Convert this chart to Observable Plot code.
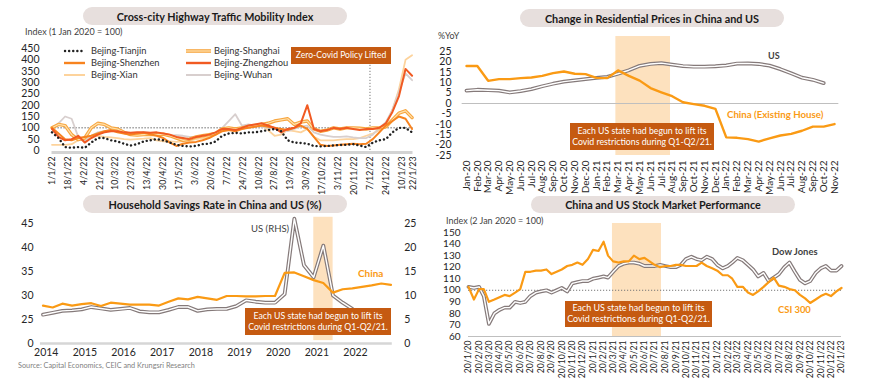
<!DOCTYPE html>
<html><head><meta charset="utf-8">
<script src="https://cdn.jsdelivr.net/npm/d3@7"></script>
<script src="https://cdn.jsdelivr.net/npm/@observablehq/plot@0.6"></script>
<style>
body{margin:0;background:#fff;font-family:Lato,"Open Sans",sans-serif;}
#root{position:relative;width:870px;height:389px;overflow:hidden;background:#fff}
.pill{position:absolute;background:#E7DFDD;border-radius:10px;font-weight:700;color:#1a1a1a;display:flex;align-items:center;justify-content:center;white-space:nowrap}
.box{position:absolute;background:#C55A11;color:#fff;display:flex;flex-direction:column;align-items:center;justify-content:center;white-space:nowrap;line-height:1.2}
.lbl{position:absolute;white-space:nowrap;line-height:1;transform:translateY(-50%)}
svg.chart{position:absolute}
</style></head>
<body><div id="root"></div>
<script>
// ---------------- DATA ----------------
// Panel 1: Cross-city highway traffic mobility index (weekly samples)
const trafficDates = ("2022-01-01 2022-01-08 2022-01-15 2022-01-22 2022-01-29 2022-02-05 2022-02-12 2022-02-19 2022-02-26 " +
 "2022-03-05 2022-03-12 2022-03-19 2022-03-26 2022-04-02 2022-04-09 2022-04-16 2022-04-23 2022-04-30 2022-05-07 2022-05-14 " +
 "2022-05-21 2022-05-28 2022-06-04 2022-06-11 2022-06-18 2022-06-25 2022-07-02 2022-07-09 2022-07-16 2022-07-23 2022-07-30 " +
 "2022-08-06 2022-08-13 2022-08-20 2022-08-27 2022-09-03 2022-09-10 2022-09-17 2022-09-24 2022-10-01 2022-10-08 2022-10-15 " +
 "2022-10-22 2022-10-29 2022-11-05 2022-11-12 2022-11-19 2022-11-26 2022-12-03 2022-12-10 2022-12-17 2022-12-24 2022-12-31 " +
 "2023-01-07 2023-01-14 2023-01-21").split(" ");
const trafficTianjin   = [80,55,15,12,15,12,35,55,55,45, 40,30,22,28,40,45,50,45,35,25, 20,18,20,28,30,40,65,75,78,75, 80,80,85,90,95,85,45,35,33,30, 20,18,20,22,24,25,28,22,15,35, 45,50,80,100,100,80];
const trafficShanghai  = [100,115,110,70,48,55,100,120,115,100, 95,80,70,68,70,72,70,72,65,55, 45,50,60,65,70,75,95,100,95,100, 105,110,115,120,130,135,140,115,125,130, 95,85,90,100,95,100,100,98,95,100, 100,105,135,165,175,145];
const trafficShenzhen  = [100,75,50,45,55,60,65,75,85,90, 80,75,70,75,78,72,65,55,35,20, 30,35,38,45,55,70,85,90,85,95, 100,105,110,105,100,95,90,100,110,95, 60,25,20,22,25,28,30,28,30,50, 80,110,130,150,140,95];
const trafficZhengzhou = [95,60,45,50,65,35,55,70,80,85, 85,80,78,80,80,78,80,75,70,60, 55,50,60,65,70,80,95,95,90,100, 110,115,120,110,100,80,95,100,120,200, 95,85,90,100,95,100,95,90,95,95, 100,120,170,240,360,330];
const trafficXian      = [25,25,25,28,45,55,60,65,60,58, 55,50,48,50,52,55,45,40,40,38, 40,42,50,55,60,70,85,90,95,100, 110,115,110,90,65,70,90,85,80,95, 60,45,45,45,48,50,50,55,65,75, 90,110,180,270,400,420];
const trafficWuhan     = [95,120,150,140,60,40,65,80,85,90, 85,80,78,75,80,78,75,70,65,68, 65,60,60,65,70,80,100,130,160,110, 115,110,105,100,95,90,85,95,105,110, 80,70,65,60,60,62,58,55,55,70, 100,125,180,260,340,310];
const trafficTickLabels = ["1/1/22","18/1/22","4/2/22","21/2/22","10/3/22","27/3/22","13/4/22","30/4/22","17/5/22","3/6/22","20/6/22","7/7/22","24/7/22","10/8/22","27/8/22","13/9/22","30/9/22","17/10/22","3/11/22","20/11/22","7/12/22","24/12/22","10/1/23","22/1/23"];
const trafficYTicks = [0,50,100,150,200,250,300,350,400,450];
const zeroCovidLifted = "7/12/22";

// Panel 2: change in residential prices (%YoY)
const resMonths = ["Jan-20","Feb-20","Mar-20","Apr-20","May-20","Jun-20","Jul-20","Aug-20","Sep-20","Oct-20","Nov-20","Dec-20",
 "Jan-21","Feb-21","Mar-21","Apr-21","May-21","Jun-21","Jul-21","Aug-21","Sep-21","Oct-21","Nov-21","Dec-21",
 "Jan-22","Feb-22","Mar-22","Apr-22","May-22","Jun-22","Jul-22","Aug-22","Sep-22","Oct-22","Nov-22"];
const resChina = [18,18,10.9,11.7,11.7,12.2,12.5,13.3,14.6,15.4,14.3,14.1, 12.3,12.2,15.9,13.3,11,7.4,5.4,3.5,0.6,-0.3,-1.1,-2.6, -16.3,-16.5,-17.1,-18.3,-16.8,-15.4,-14.6,-13.1,-11.1,-11.1,-9.9];
const resUS = [6.2,6.6,6.4,6.2,5.3,6.0,6.9,8.3,9.5,10.5,11.1,11.7, 12.3,12.8,14.3,16.0,18.1,19.0,19.4,18.7,18.0,17.7,17.7,17.9, 18.3,19.2,19.3,19.0,18.2,16.5,14.5,12.4,11.4,9.8];
const resYTicks = [25,20,15,10,5,0,-5,-10,-15,-20,-25];
const resBand = {start:13.8, end:18.85}; // month index span, Q1-Q2/21

// Panel 3: household savings rate (quarterly)
const savQuarters = ["2013Q4","2014Q1","2014Q2","2014Q3","2014Q4","2015Q1","2015Q2","2015Q3","2015Q4","2016Q1","2016Q2","2016Q3","2016Q4",
 "2017Q1","2017Q2","2017Q3","2017Q4","2018Q1","2018Q2","2018Q3","2018Q4","2019Q1","2019Q2","2019Q3","2019Q4",
 "2020Q1","2020Q2","2020Q3","2020Q4","2021Q1","2021Q2","2021Q3","2021Q4","2022Q1","2022Q2","2022Q3","2022Q4"];
const savChina = [27.9,27.5,28.3,27.9,28.2,28.4,27.8,28.5,28.3,28.1,28.1,28.1,27.9,28.7,29.4,29.2,29.7,29.4,29.1,29.9,29.9,29.8,29.8,29.9,29.9,34.7,34.8,34.0,33.2,32.6,30.6,31.3,31.5,31.8,32.1,32.5,32.2];
const savUS = [6.0,6.4,6.8,6.9,7.1,7.6,7.3,7.0,7.2,7.4,6.7,6.5,6.5,7.0,7.6,7.6,6.8,7.1,7.2,7.2,7.8,9.0,8.7,8.5,8.5,10.3,26.0,16.3,13.8,20.4,10.0,8.5,7.2,5.5,3.5,3.0];
const savYears = [2014,2015,2016,2017,2018,2019,2020,2021,2022];
const savRightTicks = [0,5,10,15,20,25];
const savLeftLabels = ["0","25","30","35","40","45"];
const savLeftOffset = 20; // left axis = right axis + 20
const savBand = {start:2020.92, end:2021.42};

// Panel 4: stock market performance
const stockDates = ("2020-01-20 2020-02-05 2020-02-20 2020-03-05 2020-03-20 2020-04-05 2020-04-20 2020-05-05 2020-05-20 2020-06-05 2020-06-20 2020-07-05 2020-07-20 2020-08-05 2020-08-20 2020-09-05 2020-09-20 2020-10-05 2020-10-20 2020-11-05 2020-11-20 2020-12-05 2020-12-20 " +
 "2021-01-05 2021-01-20 2021-02-05 2021-02-20 2021-03-05 2021-03-20 2021-04-05 2021-04-20 2021-05-05 2021-05-20 2021-06-05 2021-06-20 2021-07-05 2021-07-20 2021-08-05 2021-08-20 2021-09-05 2021-09-20 2021-10-05 2021-10-20 2021-11-05 2021-11-20 2021-12-05 2021-12-20 " +
 "2022-01-05 2022-01-20 2022-02-05 2022-02-20 2022-03-05 2022-03-20 2022-04-05 2022-04-20 2022-05-05 2022-05-20 2022-06-05 2022-06-20 2022-07-05 2022-07-20 2022-08-05 2022-08-20 2022-09-05 2022-09-20 2022-10-05 2022-10-20 2022-11-05 2022-11-20 2022-12-05 2022-12-20 " +
 "2023-01-05 2023-01-20").split(" ");
const stockCSI300 = [103,92,101,101,90,92,94,96,95,98, 101,116,116,117,117,118,114,116,118,121, 122,124,122,127,135,134,142,130,125,124, 125,125,130,127,128,125,122,120,121,121, 122,122,121,121,121,124,121,119,117,113, 113,110,103,103,98,96,99,103,107,111, 104,103,101,100,96,93,89,92,95,97, 95,99,102];
const stockDow = [103,102,103,95,71,80,83,85,85,90, 89,90,95,98,99,100,98,100,102,99, 106,107,108,108,110,111,112,111,116,121, 123,124,124,123,121,121,121,122,121,120, 120,122,127,129,127,126,129,127,122,119, 121,124,128,126,122,118,112,115,108,111, 114,120,124,116,109,106,108,115,119,121, 117,117,121];
const stockTickLabels = ["20/1/20","20/2/20","20/3/20","20/4/20","20/5/20","20/6/20","20/7/20","20/8/20","20/9/20","20/10/20","20/11/20","20/12/20",
 "20/1/21","20/2/21","20/3/21","20/4/21","20/5/21","20/6/21","20/7/21","20/8/21","20/9/21","20/10/21","20/11/21","20/12/21",
 "20/1/22","20/2/22","20/3/22","20/4/22","20/5/22","20/6/22","20/7/22","20/8/22","20/9/22","20/10/22","20/11/22","20/12/22","20/1/23"];
const stockYTicks = [60,70,80,90,100,110,120,130,140,150];
const stockBand = {start:"2021-03-18", end:"2021-08-09"};

// ---------------- HELPERS ----------------
const ORANGE = "#FA9A14", BAND = "#FDE1BE", GRAYLINE = "#857a7a", DARK = "#3f3f3f";
const root = document.getElementById("root");
const parseDMY = s => { const [d,m,y] = s.split("/").map(Number); return new Date(Date.UTC(2000+y, m-1, d)); };
const fmtDMY = d => `${d.getUTCDate()}/${d.getUTCMonth()+1}/${d.getUTCFullYear()%100}`;
const iso = s => new Date(s + "T00:00:00Z");
function fit(el, target, k=1){ el.style.fontSize="10px"; const w=el.getBoundingClientRect().width; el.style.fontSize=(10*k*target/w).toFixed(2)+"px"; }
function pill(text,x,y,w,h,tw){
  const d=document.createElement("div"); d.className="pill";
  Object.assign(d.style,{left:x+"px",top:y+"px",width:w+"px",height:h+"px"});
  const s=document.createElement("span"); s.textContent=text; d.appendChild(s); root.appendChild(d); fit(s,tw,1.03);
}
function noteBox(lines,x,y,w,h,tw){
  const d=document.createElement("div"); d.className="box";
  Object.assign(d.style,{left:x+"px",top:y+"px",width:w+"px",height:h+"px"});
  const spans=lines.map(t=>{const s=document.createElement("span"); s.textContent=t; d.appendChild(s); return s;});
  root.appendChild(d);
  const longest=spans.reduce((a,b)=>b.getBoundingClientRect().width>a.getBoundingClientRect().width?b:a);
  fit(longest,tw,1.02); const fs=longest.style.fontSize; spans.forEach(s=>s.style.fontSize=fs);
}
function label(text,x,yc,tw,opts={}){
  const d=document.createElement("div"); d.className="lbl"; d.textContent=text;
  Object.assign(d.style,{left:x+"px",top:yc+"px",color:opts.color||DARK,fontWeight:opts.weight||400});
  root.appendChild(d); fit(d,tw,1.06); return d;
}
function place(svg,x,y){ svg.classList.add("chart"); svg.style.left=x+"px"; svg.style.top=y+"px"; root.appendChild(svg); }
const dbl = (data,opts) => [Plot.line(data,{...opts,stroke:GRAYLINE,strokeWidth:3.8}), Plot.line(data,{...opts,stroke:"#fff",strokeWidth:1.4})];
const baseStyle = {fontFamily:"Lato, 'Open Sans', sans-serif", fontSize:"10px", color:"#262626", background:"transparent", overflow:"visible"};

// ---------------- PANEL 1 ----------------
const tD = trafficDates.map(iso);
const rows = arr => tD.map((d,i)=>({date:d, v:arr[i]}));
const p1 = Plot.plot({
  width:435, height:150, marginLeft:51.5, marginRight:22.5, marginTop:8, marginBottom:40, style:baseStyle,
  x:{type:"utc", domain:[tD[0], parseDMY("22/1/23")], label:null},
  y:{domain:[0,450], label:null},
  marks:[
    Plot.ruleY([0],{stroke:"#d3d3d3",strokeWidth:3,dy:2}),
    Plot.ruleY([100],{stroke:"#444",strokeWidth:1,strokeDasharray:"1.2 1.8"}),
    Plot.ruleX([parseDMY(zeroCovidLifted)],{y1:0,y2:380,stroke:"#777",strokeDasharray:"1.2 1.8"}),
    Plot.line(rows(trafficXian),{x:"date",y:"v",stroke:"#FDD39C",strokeWidth:1.8}),
    Plot.line(rows(trafficWuhan),{x:"date",y:"v",stroke:"#D8CFCE",strokeWidth:1.8}),
    Plot.line(rows(trafficShanghai),{x:"date",y:"v",stroke:"#F7A53E",strokeWidth:3.4}),
    Plot.line(rows(trafficShanghai),{x:"date",y:"v",stroke:"#FFE1AD",strokeWidth:1.2}),
    Plot.line(rows(trafficShenzhen),{x:"date",y:"v",stroke:"#F7831F",strokeWidth:2}),
    Plot.line(rows(trafficZhengzhou),{x:"date",y:"v",stroke:"#F15A22",strokeWidth:2}),
    Plot.line(rows(trafficTianjin),{x:"date",y:"v",stroke:"#222",strokeWidth:2.4,strokeDasharray:"0.1 4",strokeLinecap:"round"}),
    Plot.axisY({ticks:trafficYTicks,tickSize:0,tickPadding:12.5,fontSize:10.5}),
    Plot.axisX({ticks:trafficTickLabels.map(parseDMY),tickFormat:fmtDMY,tickRotate:-90,tickSize:0,tickPadding:6,fontSize:8.8})
  ].flat()
});
place(p1,0,40);
pill("Cross-city Highway Traffic Mobility Index",83,7,264,18,191);
label("Index (1 Jan 2020 = 100)",25,32,92);
// legend
const legendItems = [
  {name:"Bejing-Tianjin", col:0, row:0, sw:`<line x1="2" y1="4" x2="21" y2="4" stroke="#222" stroke-width="2.4" stroke-dasharray="0.1 4" stroke-linecap="round"/>`},
  {name:"Bejing-Shanghai", col:1, row:0, sw:`<line x1="1" y1="4" x2="26" y2="4" stroke="#F7A53E" stroke-width="3.6"/><line x1="1" y1="4" x2="26" y2="4" stroke="#FFE1AD" stroke-width="1.3"/>`},
  {name:"Bejing-Shenzhen", col:0, row:1, sw:`<line x1="1" y1="4" x2="22" y2="4" stroke="#F7831F" stroke-width="2.4"/>`},
  {name:"Bejing-Zhengzhou", col:1, row:1, sw:`<line x1="1" y1="4" x2="26" y2="4" stroke="#F15A22" stroke-width="2.4"/>`},
  {name:"Bejing-Xian", col:0, row:2, sw:`<line x1="1" y1="4" x2="22" y2="4" stroke="#FDD39C" stroke-width="2"/>`},
  {name:"Bejing-Wuhan", col:1, row:2, sw:`<line x1="1" y1="4" x2="26" y2="4" stroke="#D8CFCE" stroke-width="2"/>`}
];
legendItems.forEach(it=>{
  const yc = 51 + it.row*12;
  const sx = it.col===0 ? 63 : 185, tx = it.col===0 ? 91 : 214;
  const s = document.createElementNS("http://www.w3.org/2000/svg","svg");
  s.setAttribute("width",28); s.setAttribute("height",8); s.innerHTML = it.sw;
  Object.assign(s.style,{position:"absolute",left:sx+"px",top:(yc-4)+"px"});
  root.appendChild(s);
  const d=document.createElement("div"); d.className="lbl"; d.textContent=it.name;
  Object.assign(d.style,{left:tx+"px",top:yc+"px",color:"#333",fontSize:"9.3px"}); root.appendChild(d);
});
noteBox(["Zero-Covid Policy Lifted"],291,47,100,17,89);

// ---------------- PANEL 2 ----------------
const p2 = Plot.plot({
  width:435, height:165, marginLeft:31, marginRight:36, marginTop:21, marginBottom:40, style:baseStyle,
  x:{domain:[0,resMonths.length-1], label:null},
  y:{domain:[-25,25], label:null},
  marks:[
    Plot.rect([resBand],{x1:"start",x2:"end",y1:-25,y2:32.2,fill:BAND}),
    Plot.ruleY([0],{x1:-0.4,x2:34.4,stroke:"#bfbfbf"}),
    dbl(resUS.map((v,i)=>({i,v})),{x:"i",y:"v"}),
    Plot.line(resChina.map((v,i)=>({i,v})),{x:"i",y:"v",stroke:ORANGE,strokeWidth:2.4}),
    Plot.axisY({ticks:resYTicks,tickSize:0,tickPadding:15,tickFormat:d=>String(d),fontSize:10.5}),
    Plot.axisX({ticks:d3.range(resMonths.length),tickFormat:i=>resMonths[i],tickRotate:-90,tickSize:0,tickPadding:5,fontSize:10})
  ].flat()
});
place(p2,435,30);
pill("Change in Residential Prices in China and US",520,9,264,18,208);
label("%YoY",438,36,20);
label("US",768,56,11,{weight:700});
label("China (Existing House)",727,115,91,{color:ORANGE,weight:700});
noteBox(["Each US state had begun to lift its","Covid restrictions during Q1-Q2/21."],570,123,144,27,137);

// ---------------- PANEL 3 ----------------
const qT = q => +q.slice(0,4) + (3*(+q.slice(5)) - 1)/12;
const p3 = Plot.plot({
  width:435, height:150, marginLeft:38, marginRight:41.3, marginTop:10, marginBottom:20, style:baseStyle,
  x:{domain:[2013.8,2023.0], label:null},
  y:{domain:[0,25], label:null},
  marks:[
    Plot.rect([savBand],{x1:"start",x2:"end",y1:0.6,y2:26.3,fill:BAND}),
    Plot.ruleY([0],{x1:2013.85,x2:2022.95,stroke:"#d6d6d6",strokeWidth:2.5}),
    dbl(savUS.map((v,i)=>({t:qT(savQuarters[i]),v})),{x:"t",y:"v"}),
    Plot.line(savChina.map((v,i)=>({t:qT(savQuarters[i]),v:v-savLeftOffset})),{x:"t",y:"v",stroke:ORANGE,strokeWidth:2.2}),
    Plot.axisY({anchor:"left",ticks:savRightTicks,tickFormat:d=>savLeftLabels[savRightTicks.indexOf(d)],tickSize:0,tickPadding:5,fontSize:10.5}),
    Plot.axisY({anchor:"right",ticks:savRightTicks,tickFormat:d=>String(d),tickSize:0,tickPadding:10,fontSize:10.5}),
    Plot.axisX({ticks:savYears,tickFormat:d=>String(d),tickSize:0,tickPadding:5,fontSize:10.5})
  ].flat()
});
place(p3,0,213);
pill("Household Savings Rate in China and US (%)",83,195,264,18,207);
label("US (RHS)",251,229,36);
label("China",358,274,24,{color:ORANGE,weight:700});
noteBox(["Each US state had begun to lift its","Covid restrictions during Q1-Q2/21."],245,308,146,27,137);
label("Source: Capital Economics, CEIC and Krungsri Research",18,366,167,{color:"#7f7f7f"});

// ---------------- PANEL 4 ----------------
const sD = stockDates.map(iso);
const p4 = Plot.plot({
  width:435, height:174, marginLeft:33, marginRight:29, marginTop:17, marginBottom:53, style:baseStyle,
  x:{type:"utc", domain:[sD[0], sD[sD.length-1]], label:null},
  y:{domain:[60,150], label:null},
  marks:[
    Plot.rect([stockBand],{x1:d=>iso(d.start),x2:d=>iso(d.end),y1:60,y2:157.8,fill:BAND}),
    Plot.ruleY([60],{stroke:"#bfbfbf"}),
    Plot.ruleY([100],{stroke:"#777",strokeDasharray:"1.2 1.8"}),
    dbl(sD.map((d,i)=>({date:d,v:stockDow[i]})),{x:"date",y:"v"}),
    Plot.line(sD.map((d,i)=>({date:d,v:stockCSI300[i]})),{x:"date",y:"v",stroke:ORANGE,strokeWidth:2.2}),
    Plot.axisY({ticks:stockYTicks,tickSize:0,tickPadding:8,fontSize:10}),
    Plot.axisX({ticks:stockTickLabels.map(parseDMY),tickFormat:fmtDMY,tickRotate:-90,tickSize:0,tickPadding:4,fontSize:8.6})
  ].flat()
});
place(p4,435,215);
pill("China and US Stock Market Performance",531,196,264,17,190);
label("Index (2 Jan 2020 = 100)",446,221,92);
label("Dow Jones",772,252,43,{weight:700});
label("CSI 300",778,310,31,{color:ORANGE,weight:700});
noteBox(["Each US state had begun to lift its","Covid restrictions during Q1-Q2/21."],565,301,147,26,140);
</script>
</body></html>
